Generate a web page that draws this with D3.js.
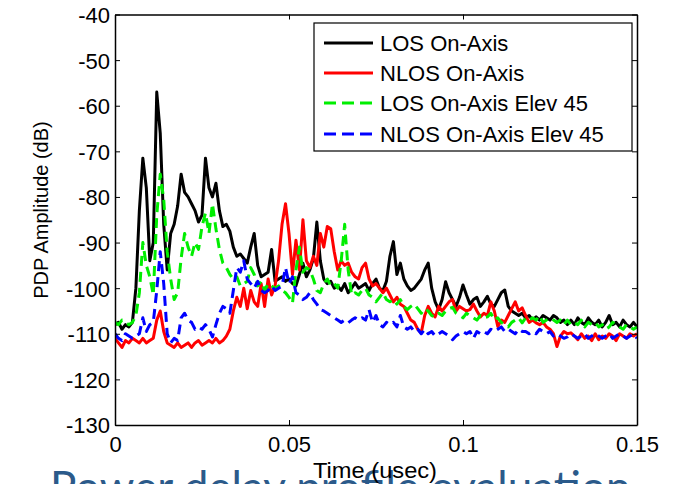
<!DOCTYPE html>
<html><head><meta charset="utf-8">
<script src="https://cdn.jsdelivr.net/npm/d3@7"></script>
<style>html,body{margin:0;padding:0;background:#fff;overflow:hidden}</style>
</head><body>
<svg id="c" width="684" height="484"></svg>
<script>
// time grid: 0 .. 0.150 usec, step 0.001
const timeUsec = d3.range(0, 151).map(i => i / 1000);
const xTicks = [0, 0.05, 0.1, 0.15];
const xTickLabels = ["0", "0.05", "0.1", "0.15"];
const yTicks = [-130, -120, -110, -100, -90, -80, -70, -60, -50, -40];
const seriesNames = ["LOS On-Axis", "NLOS On-Axis", "LOS On-Axis Elev 45", "NLOS On-Axis Elev 45"];

const losOnAxis = [-108,-107.5,-109,-108,-108.5,-107.5,-100,-83,-71.5,-78,-94,-90,-57,-66,-86,-96,-88,-86,-82,-75,
-79,-80,-81.5,-83,-85.5,-84,-71.5,-78,-80,-77,-83,-86.5,-86,-87.5,-91,-93,-92.5,-93.5,-94.5,-91,
-88,-95,-97.5,-97,-96.5,-91.5,-98.5,-98,-97.5,-98.5,-98,-99,-99.5,-97,-94.5,-97.5,-96,-93.5,-85.5,-94,
-98,-99,-98.5,-100,-99.5,-100.5,-99,-101,-100,-98.8,-100,-99.5,-99,-100.5,-99,-98,-100,-100.5,-98.5,-93,
-89.8,-97,-94.5,-98,-99.5,-100.5,-100,-99,-98,-96,-94.5,-100,-103,-104.7,-102.5,-98.6,-101,-102.5,-104,-102,
-99.3,-101.5,-103.5,-102.5,-102,-104,-103,-101.8,-103.5,-104,-102.5,-101,-100.4,-104,-105,-105.5,-106,-105.5,-106.5,-106,
-107,-106.3,-107,-106,-106.5,-107,-106,-106.5,-107.5,-107,-108,-107,-108,-106.5,-107.5,-108,-106.5,-107.5,-108,-107,
-108.5,-107.5,-106,-108,-107.5,-108.5,-107,-108,-108.5,-107.5,-108.5];

const nlosOnAxis = [-111,-112,-113,-111.5,-112,-111,-111.5,-112,-111,-112,-111.5,-111,-107,-105,-109.5,-112,-112.5,-113,-112,-113,
-112.5,-112,-113,-112,-111.5,-112.5,-112,-111.5,-112,-111,-112,-111.5,-110.5,-109,-105,-102,-104,-100,-104.5,-100.5,
-103,-104,-99,-104,-98,-101.5,-99.5,-94,-86,-81.5,-88,-97,-89.5,-96,-85,-94,-95.5,-93,-95,-88,
-91,-86.5,-87,-92,-96,-94,-95,-94.5,-96.5,-97.5,-98,-95.5,-94.5,-98,-99.5,-99,-100,-101,-100,-101.5,
-103,-102,-103.5,-104,-105.5,-107,-107.5,-109,-109.8,-106,-104,-105.5,-106.3,-104,-105,-104,-103,-102.5,-105,-104,
-104.5,-105,-104.7,-103.5,-105,-106.3,-105.5,-106,-103,-105,-108.4,-107,-107.5,-106,-104.5,-103,-105,-104.3,-106,-107.5,
-107,-107.6,-108,-107.5,-108.5,-109,-110,-112.8,-110.5,-109.5,-110,-109.8,-110.5,-111.3,-110,-111,-110.5,-111.5,-110,-111.3,
-110.5,-111,-110,-110.5,-111.5,-110,-110.5,-111,-110,-110.5,-110];

const losElev45 = [-107.5,-108,-107,-107.5,-108,-107.5,-106,-101,-90,-95,-97.5,-101.5,-84,-75,-80.5,-92,-98,-102.5,-101,-93.5,
-88,-91,-93,-90,-91.5,-86.5,-83.5,-88,-81.5,-87,-91.5,-94.5,-95.5,-97,-98,-97.5,-99.5,-99,-98.5,-95.5,
-97,-99.5,-98.5,-100.5,-99,-99.5,-100,-99.5,-100.5,-101,-102,-103.3,-96,-91,-96.5,-95.5,-96,-98,-100.5,-101,
-99,-98,-99.5,-99,-100,-94,-86,-96,-101.5,-101,-101.5,-100.5,-100,-101.5,-102,-103,-102,-101,-102.5,-103,
-102.5,-103.5,-102.5,-104,-104.7,-104,-103.5,-104.5,-105.5,-104.5,-105,-106,-106.3,-105.5,-106,-105,-104.5,-104.2,-105.5,-106,
-106.5,-105.5,-106,-106.5,-107,-106,-106.5,-106.3,-105.5,-107,-106.5,-107.5,-108,-108.5,-107.5,-107,-106.5,-107.6,-106.5,-107,
-106.5,-107,-106,-107.5,-107,-106.5,-107,-107.5,-107,-108,-107,-108,-107.5,-108,-107,-108.5,-107.5,-108,-107.5,-108.5,
-108,-109,-108.5,-107.5,-108,-108.5,-109,-108,-108.5,-109,-108.5];

const nlosElev45 = [-110,-111,-111.5,-110,-110.5,-111,-110.5,-110,-106.5,-109.5,-108,-107.5,-100.5,-92,-99,-110,-112,-111,-111.5,-106.5,
-105.5,-107,-107.5,-109,-108.5,-109,-108,-109,-110.7,-108,-105.5,-104,-104.5,-105.5,-100.5,-95.5,-96.5,-94,-98,-99,
-100,-98.5,-100.5,-101,-100.5,-99.5,-100.5,-100,-99.5,-95.5,-99,-97.5,-101,-101.5,-102.5,-102,-101,-102.5,-103.5,-104.7,
-105,-105.5,-106,-106.5,-107,-107.5,-107,-107.6,-107,-106.5,-107,-106.5,-107,-104.7,-107.5,-106,-108,-108.5,-107.5,-108,
-107.5,-108.5,-106,-108.5,-109,-108.5,-109.5,-109,-110,-109,-110,-109.5,-110.5,-110,-109.5,-110,-110.5,-111.3,-110.5,-110,
-109.5,-110,-109.5,-111,-109.5,-110,-109.5,-110,-109,-109.5,-109,-108.5,-109.5,-109,-109.5,-110,-109,-109.5,-109.5,-110,
-109.5,-110,-109,-109.5,-110,-109.5,-110.5,-110,-110.5,-111,-110.7,-110,-110.5,-111,-110.5,-110,-111,-110.5,-110,-110.5,
-111,-110.5,-110,-111,-110.5,-110,-110.5,-111,-110.5,-110,-111];

const seriesValues = [losOnAxis, nlosOnAxis, losElev45, nlosElev45];
const seriesColors = ["#000000", "#ff0000", "#00ee00", "#0000ff"];
const seriesDash = [null, null, "10,6", "10,6"];

const svg = d3.select("#c");
const L = 115, R = 637, T = 14.5, B = 425;
const x = d3.scaleLinear().domain([0, 0.15]).range([L, R]);
const y = d3.scaleLinear().domain([-130, -40]).range([B, T]);
const font = "'Liberation Sans', Arial, sans-serif";

svg.append("defs").append("clipPath").attr("id", "clip")
  .append("rect").attr("x", L).attr("y", T).attr("width", R - L).attr("height", B - T);

const line = d3.line().x((d, i) => x(timeUsec[i])).y(d => y(d));
const gLines = svg.append("g").attr("clip-path", "url(#clip)");
seriesValues.forEach((vals, k) => {
  gLines.append("path").datum(vals).attr("d", line)
    .attr("fill", "none").attr("stroke", seriesColors[k]).attr("stroke-width", 3)
    .attr("stroke-linejoin", "round")
    .attr("stroke-dasharray", seriesDash[k]);
});

// axes (MATLAB style: inward ticks on all sides)
const axB = svg.append("g").attr("transform", `translate(0,${B})`)
  .call(d3.axisBottom(x).tickValues(xTicks).tickSizeInner(-5).tickSizeOuter(0).tickFormat((d, i) => xTickLabels[i]));
const axT = svg.append("g").attr("transform", `translate(0,${T})`)
  .call(d3.axisTop(x).tickValues(xTicks).tickSizeInner(-5).tickSizeOuter(0).tickFormat(""));
const axL = svg.append("g").attr("transform", `translate(${L},0)`)
  .call(d3.axisLeft(y).tickValues(yTicks).tickSizeInner(-5).tickSizeOuter(0).tickFormat(d3.format("d")));
const axR = svg.append("g").attr("transform", `translate(${R},0)`)
  .call(d3.axisRight(y).tickValues(yTicks).tickSizeInner(-5).tickSizeOuter(0).tickFormat(""));
[axB, axT, axL, axR].forEach(a => {
  a.select(".domain").attr("stroke", "#000").attr("stroke-width", 1.5);
  a.selectAll(".tick line").attr("stroke", "#000").attr("stroke-width", 1);
  a.selectAll("text").attr("font-family", font).attr("font-size", 22).attr("fill", "#000");
});
axB.selectAll(".tick text").attr("dy", null).attr("y", 27);
axL.selectAll(".tick text").attr("x", -5).attr("dy", "0.36em").text(d => d3.format("d")(d).replace("−", "-"));

// slide title text cut off at the bottom (drawn first so the axis label sits over it)
svg.append("text").attr("x", 50).attr("y", 503).attr("font-family", "Lato, 'Open Sans', sans-serif")
  .attr("font-size", 44).attr("fill", "#2b5a8a").text("Power delay profile evaluation");

// axis labels
svg.append("text").attr("x", 313).attr("y", 478)
  .attr("textLength", 124).attr("lengthAdjust", "spacingAndGlyphs")
  .attr("font-family", font).attr("font-size", 22).text("Time (usec)");
svg.append("text").attr("transform", "translate(48,210) rotate(-90)").attr("text-anchor", "middle")
  .attr("font-family", font).attr("font-size", 20).text("PDP Amplitude (dB)");

// legend
const lg = svg.append("g");
lg.append("rect").attr("x", 314).attr("y", 23).attr("width", 318).attr("height", 128)
  .attr("fill", "#fff").attr("stroke", "#000").attr("stroke-width", 1.2);
const rowY = [43, 73, 103, 134];
seriesNames.forEach((n, k) => {
  lg.append("line").attr("x1", 324).attr("x2", 373).attr("y1", rowY[k]).attr("y2", rowY[k])
    .attr("stroke", seriesColors[k]).attr("stroke-width", 3).attr("stroke-dasharray", seriesDash[k] ? "12,6" : null);
  lg.append("text").attr("x", 380).attr("y", rowY[k] + 8).attr("font-family", font).attr("font-size", 22).text(n);
});
</script>
</body></html>
